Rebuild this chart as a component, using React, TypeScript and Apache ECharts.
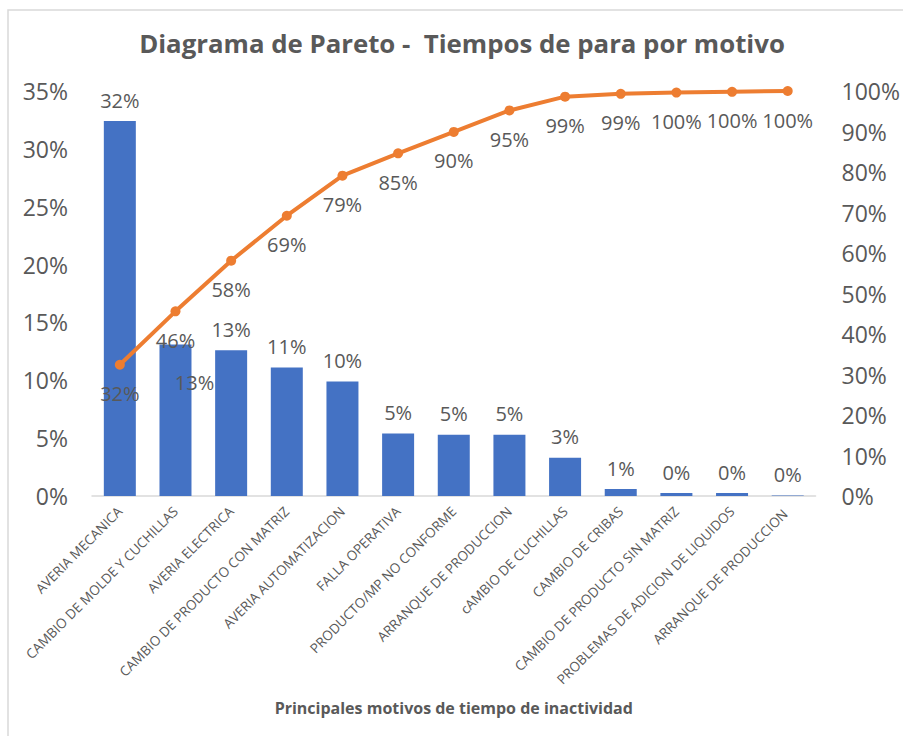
import React, { useEffect, useRef } from "react";
import * as echarts from "echarts";

const categories = [
  "AVERIA MECANICA",
  "CAMBIO DE MOLDE Y CUCHILLAS",
  "AVERIA ELECTRICA",
  "CAMBIO DE PRODUCTO CON MATRIZ",
  "AVERIA AUTOMATIZACION",
  "FALLA OPERATIVA",
  "PRODUCTO/MP NO CONFORME",
  "ARRANQUE DE PRODUCCION",
  "cAMBIO DE CUCHILLAS",
  "CAMBIO DE CRIBAS",
  "CAMBIO DE PRODUCTO SIN MATRIZ",
  "PROBLEMAS DE ADICION DE LIQUIDOS",
  "ARRANQUE DE PRODUCCION ",
];

// percentage of downtime per reason (left axis)
const shareValues = [32.4, 13.1, 12.6, 11.1, 9.9, 5.4, 5.3, 5.3, 3.3, 0.6, 0.25, 0.25, 0.05];
// cumulative percentage (right axis)
const cumulativeValues = [32.4, 45.6, 58.1, 69.2, 79.1, 84.6, 89.9, 95.2, 98.6, 99.3, 99.6, 99.8, 100];

const leftTicks = { min: 0, max: 35, interval: 5 };
const rightTicks = { min: 0, max: 100, interval: 10 };

const TEXT = "#595959";
const FONT = "'Open Sans', 'Noto Sans', sans-serif";

export default function App() {
  const ref = useRef<HTMLDivElement>(null);
  useEffect(() => {
    if (!ref.current) return;
    const chart = echarts.init(ref.current, undefined, { renderer: "svg" });
    const barData = shareValues.map((v, i) =>
      i === 1
        ? { value: v, label: { position: "insideTop", distance: 28, offset: [19, 0] } }
        : v
    );
    chart.setOption({
      animation: false,
      backgroundColor: "#ffffff",
      textStyle: { fontFamily: FONT },
      title: {
        text: "Diagrama de Pareto -  Tiempos de para por motivo",
        left: 457,
        top: 25,
        textAlign: "center",
        textStyle: { color: TEXT, fontSize: 25.8, fontWeight: "bold", fontFamily: FONT },
      },
      graphic: [
        {
          type: "rect",
          shape: { x: 8, y: 10, width: 1000, height: 1000 },
          style: { fill: "none", stroke: "#D9D9D9", lineWidth: 1.5 },
          silent: true,
        },
      ],
      grid: { left: 92, right: 86, top: 91, bottom: 240 },
      xAxis: {
        type: "category",
        data: categories,
        axisLine: { show: true, lineStyle: { color: "#D9D9D9", width: 1.5 } },
        axisTick: { show: false },
        axisLabel: {
          rotate: 45,
          interval: 0,
          margin: 13,
          color: TEXT,
          fontSize: 13.5,
          fontFamily: FONT,
        },
        name: "Principales motivos de tiempo de inactividad",
        nameLocation: "middle",
        nameGap: 204,
        nameTextStyle: { color: TEXT, fontSize: 16, fontWeight: "bold", fontFamily: FONT },
      },
      yAxis: [
        {
          type: "value",
          min: leftTicks.min,
          max: leftTicks.max,
          interval: leftTicks.interval,
          splitLine: { show: false },
          axisLine: { show: false },
          axisTick: { show: false },
          axisLabel: { formatter: "{value}%", color: TEXT, fontSize: 23, margin: 24, fontFamily: FONT },
        },
        {
          type: "value",
          min: rightTicks.min,
          max: rightTicks.max,
          interval: rightTicks.interval,
          splitLine: { show: false },
          axisLine: { show: false },
          axisTick: { show: false },
          axisLabel: { formatter: "{value}%", color: TEXT, fontSize: 23, margin: 26, fontFamily: FONT },
        },
      ],
      series: [
        {
          type: "bar",
          data: barData,
          yAxisIndex: 0,
          barWidth: 32,
          itemStyle: { color: "#4472C4" },
          label: {
            show: true,
            position: "top",
            distance: 11,
            color: TEXT,
            fontSize: 20,
            fontFamily: FONT,
            formatter: (p: any) => Math.round(p.value) + "%",
          },
        },
        {
          type: "line",
          data: cumulativeValues,
          yAxisIndex: 1,
          symbol: "circle",
          symbolSize: 10,
          lineStyle: { color: "#ED7D31", width: 4 },
          itemStyle: { color: "#ED7D31" },
          label: {
            show: true,
            position: "bottom",
            distance: 14,
            color: TEXT,
            fontSize: 20,
            fontFamily: FONT,
            formatter: (p: any) => Math.round(p.value) + "%",
          },
          z: 3,
        },
      ],
    });
    return () => chart.dispose();
  }, []);
  return (
    <div
      ref={ref}
      style={{ position: "fixed", left: 0, top: 0, width: 903, height: 736, background: "#fff" }}
    />
  );
}
